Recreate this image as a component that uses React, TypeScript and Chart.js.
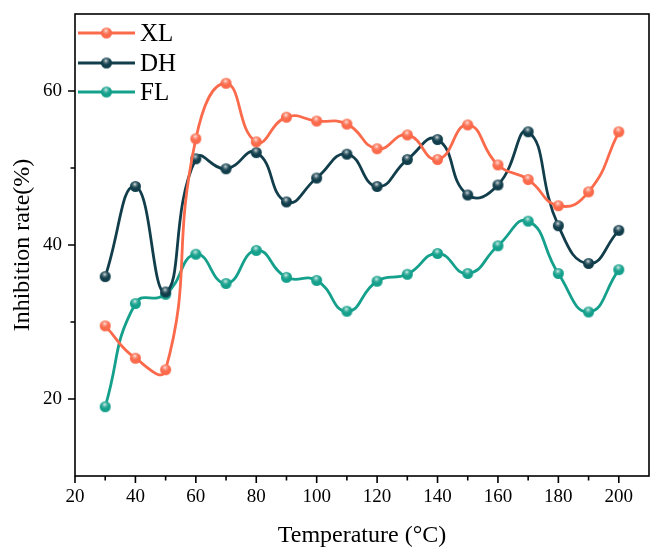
import React, { useEffect, useRef } from 'react';
import { Chart, registerables } from 'chart.js';

Chart.register(...registerables);

const temperatures = [30, 40, 50, 60, 70, 80, 90, 100, 110, 120, 130, 140, 150, 160, 170, 180, 190, 200];
const xlValues = [29.5, 25.3, 23.8, 53.8, 61.0, 53.4, 56.6, 56.1, 55.7, 52.5, 54.3, 51.1, 55.6, 50.4, 48.5, 45.1, 46.9, 54.7];
const dhValues = [35.9, 47.6, 33.9, 51.2, 49.9, 52.0, 45.6, 48.7, 51.8, 47.6, 51.1, 53.7, 46.5, 47.8, 54.7, 42.5, 37.6, 41.9];
const flValues = [19.0, 32.4, 33.6, 38.8, 35.0, 39.3, 35.8, 35.4, 31.4, 35.3, 36.2, 38.9, 36.3, 39.9, 43.1, 36.3, 31.3, 36.8];
const seriesNames = ['XL', 'DH', 'FL'];
const seriesColors = ['#FA6A4B', '#123E4C', '#15A08C'];
const xTickValues = [20, 40, 60, 80, 100, 120, 140, 160, 180, 200];
const xMinorTickValues = [30, 50, 70, 90, 110, 130, 150, 170, 190];
const yTickValues = [20, 40, 60];
const yMinorTickValues = [30, 50];
const xTitle = 'Temperature (°C)';
const yTitle = 'Inhibition rate(%)';

const SERIF = "'Liberation Serif', 'Times New Roman', serif";

function makeBall(color: string, r: number): HTMLCanvasElement {
  const s = Math.ceil(r * 2 + 2);
  const c = document.createElement('canvas');
  c.width = s;
  c.height = s;
  const ctx = c.getContext('2d')!;
  const cx = s / 2;
  const cy = s / 2;
  ctx.fillStyle = color;
  ctx.beginPath();
  ctx.arc(cx, cy, r, 0, Math.PI * 2);
  ctx.fill();
  const g = ctx.createRadialGradient(cx - r * 0.1, cy - r * 0.4, 0, cx - r * 0.1, cy - r * 0.4, r * 0.75);
  g.addColorStop(0, 'rgba(255,255,255,0.85)');
  g.addColorStop(0.5, 'rgba(255,255,255,0.25)');
  g.addColorStop(1, 'rgba(255,255,255,0)');
  ctx.fillStyle = g;
  ctx.beginPath();
  ctx.arc(cx, cy, r, 0, Math.PI * 2);
  ctx.fill();
  return c;
}

const framePlugin = {
  id: 'frameAndTicks',
  afterDraw(chart: any) {
    const { ctx, chartArea, scales } = chart;
    const xs = scales.x;
    const ys = scales.y;
    ctx.save();
    ctx.strokeStyle = '#000';
    ctx.lineWidth = 1.6;
    ctx.strokeRect(chartArea.left, chartArea.top, chartArea.right - chartArea.left, chartArea.bottom - chartArea.top);
    ctx.beginPath();
    xTickValues.forEach((v) => {
      const px = xs.getPixelForValue(v);
      ctx.moveTo(px, chartArea.bottom);
      ctx.lineTo(px, chartArea.bottom + 7);
    });
    xMinorTickValues.forEach((v) => {
      const px = xs.getPixelForValue(v);
      ctx.moveTo(px, chartArea.bottom);
      ctx.lineTo(px, chartArea.bottom + 4.5);
    });
    yTickValues.forEach((v) => {
      const py = ys.getPixelForValue(v);
      ctx.moveTo(chartArea.left, py);
      ctx.lineTo(chartArea.left - 7, py);
    });
    yMinorTickValues.forEach((v) => {
      const py = ys.getPixelForValue(v);
      ctx.moveTo(chartArea.left, py);
      ctx.lineTo(chartArea.left - 4.5, py);
    });
    ctx.stroke();

    // legend
    const lx0 = chartArea.left + 3;
    const lx1 = chartArea.left + 60;
    const rowYs = [33, 63, 92];
    chart.data.datasets.forEach((ds: any, i: number) => {
      const y = rowYs[i];
      ctx.strokeStyle = ds.borderColor;
      ctx.lineWidth = 2.8;
      ctx.beginPath();
      ctx.moveTo(lx0, y);
      ctx.lineTo(lx1, y);
      ctx.stroke();
      const img = ds.pointStyle as HTMLCanvasElement;
      ctx.drawImage(img, (lx0 + lx1) / 2 - img.width / 2, y - img.height / 2);
      ctx.fillStyle = '#000';
      ctx.font = `25px ${SERIF}`;
      ctx.textBaseline = 'middle';
      ctx.textAlign = 'left';
      ctx.fillText(ds.label, lx1 + 5, y + 1);
    });
    ctx.restore();
  },
};

export default function App() {
  const ref = useRef<HTMLCanvasElement | null>(null);
  useEffect(() => {
    if (!ref.current) return;
    const seriesValues = [xlValues, dhValues, flValues];
    const datasets = seriesNames.map((name, i) => {
      const ball = makeBall(seriesColors[i], 5.5);
      return {
        label: name,
        data: temperatures.map((t, j) => ({ x: t, y: seriesValues[i][j] })),
        borderColor: seriesColors[i],
        backgroundColor: seriesColors[i],
        borderWidth: 2.8,
        tension: 0.5,
        pointStyle: ball,
        pointRadius: 5.5,
        clip: 0,
      };
    });
    const chart = new Chart(ref.current, {
      type: 'line',
      data: { datasets },
      plugins: [framePlugin],
      options: {
        responsive: false,
        animation: false,
        layout: { autoPadding: false, padding: { top: 14, right: 1, left: 0, bottom: 0 } },
        plugins: {
          legend: { display: false },
          tooltip: { enabled: false },
        },
        scales: {
          x: {
            type: 'linear',
            min: 20,
            max: 210,
            afterBuildTicks: (scale: any) => {
              scale.ticks = xTickValues.map((v) => ({ value: v }));
            },
            afterFit: (scale: any) => {
              scale.height = 72;
              scale.paddingLeft = 0;
              scale.paddingRight = 0;
            },
            grid: { display: false, drawTicks: false },
            border: { display: false },
            ticks: {
              padding: 10,
              color: '#000',
              font: { family: SERIF, size: 19 },
              maxRotation: 0,
              autoSkip: false,
            },
            title: {
              display: true,
              text: xTitle,
              color: '#000',
              font: { family: SERIF, size: 24, lineHeight: 1 },
              padding: { top: 0, bottom: 0 },
            },
          },
          y: {
            type: 'linear',
            min: 10,
            max: 70,
            afterBuildTicks: (scale: any) => {
              scale.ticks = yTickValues.map((v) => ({ value: v }));
            },
            afterFit: (scale: any) => {
              scale.width = 75;
              scale.paddingTop = 0;
              scale.paddingBottom = 0;
            },
            grid: { display: false, drawTicks: false },
            border: { display: false },
            ticks: {
              padding: 13,
              color: '#000',
              font: { family: SERIF, size: 19 },
              autoSkip: false,
            },
            title: {
              display: true,
              text: yTitle,
              color: '#000',
              font: { family: SERIF, size: 24, lineHeight: 1 },
              padding: { top: 11, bottom: 0 },
            },
          },
        },
      },
    });
    return () => chart.destroy();
  }, []);
  return (
    <div style={{ position: 'fixed', left: 0, top: 0, width: 650, height: 548, background: '#fff' }}>
      <canvas ref={ref} width={650} height={548} style={{ display: 'block' }} />
    </div>
  );
}
